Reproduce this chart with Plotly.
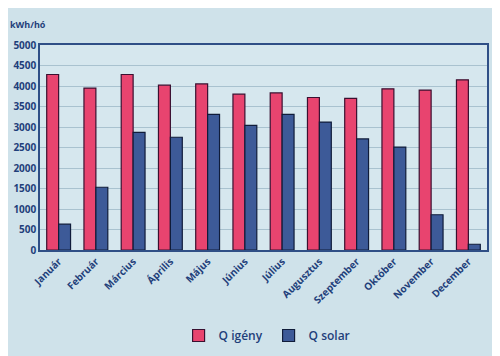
import plotly.graph_objects as go

months = ["Január", "Február", "Március", "Április", "Május", "Június",
          "Július", "Augusztus", "Szeptember", "Október", "November", "December"]
q_igeny = [4280, 3950, 4280, 4020, 4050, 3800, 3830, 3720, 3700, 3930, 3900, 4150]
q_solar = [630, 1530, 2870, 2750, 3310, 3040, 3310, 3120, 2710, 2510, 860, 140]
y_ticks = [0, 500, 1000, 1500, 2000, 2500, 3000, 3500, 4000, 4500, 5000]

text_col = "#1f3f7a"
fig = go.Figure()
fig.add_trace(go.Bar(x=months, y=q_igeny, name="Q igény",
                     marker=dict(color="#e8446f", line=dict(color="#3a1030", width=1.2))))
fig.add_trace(go.Bar(x=months, y=q_solar, name="Q solar",
                     marker=dict(color="#3d5a98", line=dict(color="#101c3a", width=1.2))))

fig.update_layout(
    width=500, height=356,
    margin=dict(l=32, r=21, t=37, b=114, autoexpand=False),
    paper_bgcolor="#cfe2ea",
    plot_bgcolor="#d6e7ee",
    barmode="group", bargap=0.36, bargroupgap=0.0,
    font=dict(family="Open Sans", color=text_col, size=10),
    showlegend=True,
    legend=dict(orientation="h", x=0.31, xanchor="left", yref="container",
                y=0.08, yanchor="middle", entrywidth=45, itemwidth=30,
                font=dict(size=12, color=text_col, weight=600),
                bgcolor="rgba(0,0,0,0)"),
    annotations=[dict(text="<b>kWh/hó</b>", xref="paper", yref="paper",
                      x=-0.072, y=1.06, xanchor="left", yanchor="bottom",
                      showarrow=False, font=dict(size=9, color=text_col))],
)
fig.update_xaxes(tickangle=-45, showline=True, linecolor="#2f4f86", linewidth=1.5,
                 mirror=True, ticks="", tickfont=dict(size=10, color=text_col),
                 tickvals=months, ticktext=[f"<b>{m}</b>" for m in months])
fig.update_yaxes(range=[0, 5000], tickvals=y_ticks,
                 ticktext=[f"<b>{v}</b>" for v in y_ticks],
                 showgrid=True, gridcolor="#a9c2cf", gridwidth=1,
                 showline=True, linecolor="#2f4f86", linewidth=1.5, mirror=True,
                 zeroline=False, tickfont=dict(size=10, color=text_col))

fig.write_html("out.html")
